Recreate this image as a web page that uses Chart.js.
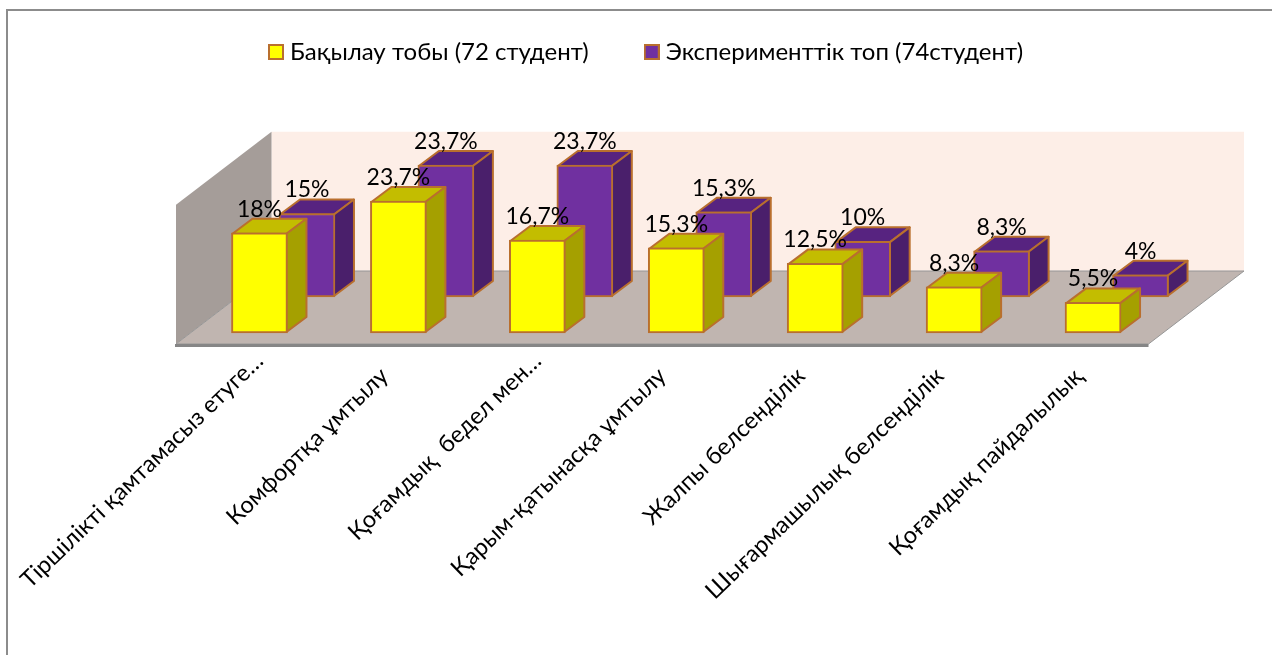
<!DOCTYPE html>
<html>
<head>
<meta charset="utf-8">
<script src="https://cdn.jsdelivr.net/npm/chart.js@4/dist/chart.umd.min.js"></script>
<style>
body { margin: 0; background: #fff; }
canvas { display: block; }
</style>
</head>
<body>
<canvas id="chart_3d" width="1272" height="655"></canvas>
<script>
const categories = ['Тіршілікті қамтамасыз етуге…', 'Комфортқа ұмтылу', 'Қоғамдық  бедел мен…', 'Қарым-қатынасқа ұмтылу', 'Жалпы белсенділік', 'Шығармашылық белсенділік', 'Қоғамдық пайдалылық'];
const controlValues = [18, 23.7, 16.7, 15.3, 12.5, 8.3, 5.5];
const experimentValues = [15, 23.7, 23.7, 15.3, 10, 8.3, 4];
const seriesNames = ['Бақылау тобы (72 студент)', 'Эксперименттік топ (74студент)'];

const fontFamily = 'Lato, "Noto Sans", sans-serif';
const edgeColor = '#b96f2e';

// fake depth: each row of bars is pushed back, walls go further back
const rows = [
    { dx: 14, dy: -11, top: '#c3bd00', side: '#a5a000' },
    { dx: 61.5, dy: -47, top: '#572380', side: '#4a1f6b' }
];
const barDepth = { x: 20, y: 15 };
const roomDepth = { x: 95.5, y: 73 };
const wallValue = 25;

function poly(ctx, pts, fill, stroke, width) {
    ctx.beginPath();
    pts.forEach((p, i) => i ? ctx.lineTo(p[0], p[1]) : ctx.moveTo(p[0], p[1]));
    ctx.closePath();
    ctx.fillStyle = fill;
    ctx.fill();
    if (stroke) {
        ctx.strokeStyle = stroke;
        ctx.lineWidth = width;
        ctx.lineJoin = 'round';
        ctx.stroke();
    }
}

// legend square as an image, so the text can sit closer to it than Chart.js allows
function swatch(color) {
    const c = document.createElement('canvas');
    c.width = 16;
    c.height = 16;
    const g = c.getContext('2d');
    g.fillStyle = edgeColor;
    g.fillRect(0, 0, 16, 16);
    g.fillStyle = color;
    g.fillRect(2, 2, 12, 12);
    return c;
}

const frame3d = {
    id: 'frame3d',
    beforeDraw(chart) {
        const ctx = chart.ctx;
        ctx.save();
        ctx.fillStyle = '#8c8c8c';
        ctx.fillRect(6, 9, chart.width, 2);
        ctx.fillRect(6, 9, 2, chart.height);
        ctx.restore();
        // the cut-off labels stick out further along the axis in the original
        chart.scales.x.getLabelItems().forEach(item => {
            if (String(item.label).endsWith('…') && !item.moved) {
                item.options.translation[0] += 14;
                item.options.translation[1] -= 15;
                item.moved = true;
            }
        });
    },
    beforeDatasetsDraw(chart) {
        const ctx = chart.ctx;
        const y = chart.scales.y;
        const left = chart.chartArea.left;
        const right = chart.chartArea.right;
        const floor = y.getPixelForValue(0);
        const top = y.getPixelForValue(wallValue);
        const dx = roomDepth.x;
        const dy = roomDepth.y;
        ctx.save();
        poly(ctx, [[left + dx, top - dy], [right + dx, top - dy], [right + dx, floor - dy], [left + dx, floor - dy]], '#fdeee7');
        poly(ctx, [[left, floor], [left + dx, floor - dy], [left + dx, top - dy], [left, top]], '#a59d99');
        poly(ctx, [[left, floor], [right, floor], [right + dx, floor - dy], [left + dx, floor - dy]], '#c0b5b0', '#969696', 1);
        ctx.fillStyle = '#868686';
        ctx.fillRect(left - 1, floor, right - left + 1, 3);
        ctx.restore();
    },
    beforeDatasetDraw(chart, args) {
        const ctx = chart.ctx;
        const row = rows[args.index];
        ctx.save();
        ctx.translate(row.dx, row.dy);
        args.meta.data.forEach(bar => {
            const l = bar.x - bar.width / 2 + 1;
            const r = bar.x + bar.width / 2 - 1;
            const t = bar.y + 1;
            const b = bar.base - 1;
            poly(ctx, [[l, t], [r, t], [r + barDepth.x, t - barDepth.y], [l + barDepth.x, t - barDepth.y]], row.top, edgeColor, 2);
            poly(ctx, [[r, t], [r + barDepth.x, t - barDepth.y], [r + barDepth.x, b - barDepth.y], [r, b]], row.side, edgeColor, 2);
        });
    },
    afterDatasetDraw(chart) {
        chart.ctx.restore();
    },
    afterDatasetsDraw(chart) {
        const ctx = chart.ctx;
        ctx.save();
        ctx.font = '23px ' + fontFamily;
        ctx.fillStyle = '#000';
        ctx.textAlign = 'center';
        ctx.textBaseline = 'alphabetic';
        chart.data.datasets.forEach((ds, i) => {
            chart.getDatasetMeta(i).data.forEach((bar, k) => {
                const text = String(ds.data[k]).replace('.', ',') + '%';
                ctx.fillText(text, bar.x + rows[i].dx, bar.y + rows[i].dy - 17 + 1);
            });
        });
        ctx.restore();
    }
};

new Chart(document.getElementById('chart_3d'), {
    type: 'bar',
    data: {
        labels: categories,
        datasets: [
            { label: seriesNames[0], data: controlValues, backgroundColor: '#ffff00' },
            { label: seriesNames[1], data: experimentValues, backgroundColor: '#7030a0' }
        ]
    },
    options: {
        responsive: false,
        animation: false,
        layout: { padding: { left: 25, right: 0, top: -21, bottom: 0 } },
        datasets: {
            bar: {
                grouped: false,
                barThickness: 56,
                borderColor: edgeColor,
                borderWidth: 2,
                borderSkipped: false,
                clip: false
            }
        },
        scales: {
            x: {
                grid: { display: false },
                border: { display: false },
                afterFit: function (scale) {
                    scale.height = 311;
                    scale.paddingLeft = 176;
                    scale.paddingRight = 123.5;
                },
                ticks: {
                    autoSkip: false,
                    minRotation: 44,
                    maxRotation: 44,
                    labelOffset: 0,
                    padding: 10,
                    color: '#000',
                    font: { family: fontFamily, size: 23.5 }
                }
            },
            y: {
                display: false,
                min: 0,
                max: 48.5
            }
        },
        plugins: {
            legend: {
                display: true,
                position: 'top',
                labels: {
                    usePointStyle: true,
                    pointStyleWidth: 4,
                    padding: 61,
                    color: '#000',
                    font: { family: fontFamily, size: 24 },
                    generateLabels: function (chart) {
                        return Chart.defaults.plugins.legend.labels.generateLabels(chart).map(item => {
                            item.pointStyle = swatch(chart.data.datasets[item.datasetIndex].backgroundColor);
                            return item;
                        });
                    }
                }
            },
            tooltip: { enabled: false }
        }
    },
    plugins: [frame3d]
});
</script>
</body>
</html>
